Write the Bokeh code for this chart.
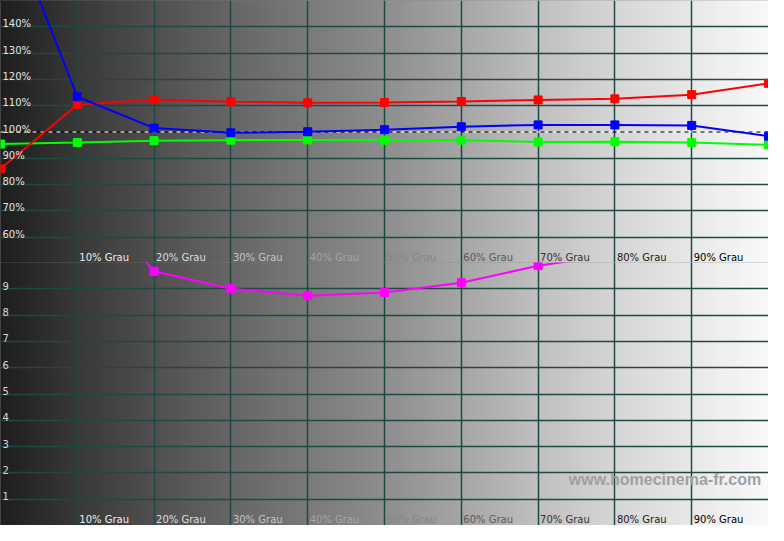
import numpy as np
from bokeh.plotting import figure
from bokeh.layouts import column
from bokeh.models import Grid, FixedTicker, Label, Span, ColumnDataSource
from bokeh.core.properties import value
from bokeh.embed import file_html
from bokeh.resources import INLINE

# ---------------- data ----------------
gray_levels = [0, 10, 20, 30, 40, 50, 60, 70, 80, 90, 100]
red_pct = [86.0, 110.4, 112.3, 111.5, 111.1, 111.2, 111.6, 112.2, 112.6, 114.2, 118.5]
green_pct = [95.4, 96.0, 96.7, 96.9, 97.0, 96.9, 96.9, 96.2, 96.3, 96.0, 95.1]
blue_pct = [188.0, 113.4, 101.5, 99.7, 100.1, 100.9, 102.0, 102.7, 102.7, 102.5, 98.4]

delta_levels = [10, 20, 30, 40, 50, 60, 70, 80]
delta_values = [13.0, 9.67, 9.0, 8.74, 8.86, 9.23, 9.88, 10.3]

pct_ticks = [60, 70, 80, 90, 100, 110, 120, 130, 140]
pct_labels = ["60%", "70%", "80%", "90%", "100%", "110%", "120%", "130%", "140%"]
delta_ticks = [1, 2, 3, 4, 5, 6, 7, 8, 9]
delta_labels = ["1", "2", "3", "4", "5", "6", "7", "8", "9"]
x_ticks = [10, 20, 30, 40, 50, 60, 70, 80, 90]
x_labels = ["10% Grau", "20% Grau", "30% Grau", "40% Grau", "50% Grau",
            "60% Grau", "70% Grau", "80% Grau", "90% Grau"]
x_label_colors = ["#eeeeee", "#dedede", "#c4c4c4", "#a4a4a4", "#868686",
                  "#5a5a5a", "#333333", "#1a1a1a", "#000000"]

# ---------------- style ----------------
W = 768
H_TOP = 263
H_BOT = 263
GRID_COLOR = "#1d4a45"
FONT = "DejaVu Sans"

# background grey ramp (style only)
ramp_pos = [0, 10, 20, 30, 40, 50, 60, 70, 80, 90, 100]
ramp_val = [30, 57, 80, 102, 122, 142, 166, 192, 214, 232, 250]
xs = np.linspace(0, 100, 512)
g = np.interp(xs, ramp_pos, ramp_val).astype(np.uint32)
rgba = (255 << 24) | (g << 16) | (g << 8) | g
bg_img = rgba.reshape(1, -1).astype(np.uint32)
css_stops = ", ".join(f"rgb({v},{v},{v}) {p}%" for p, v in zip(ramp_pos, ramp_val))


def base_fig(height, y0, y1):
    p = figure(width=W, height=height, x_range=(0, 100), y_range=(y0, y1),
               output_backend="svg", toolbar_location=None,
               x_axis_location=None, y_axis_location=None,
               min_border=0, outline_line_color=None,
               background_fill_color="#808080", border_fill_color="#808080")
    p.grid.visible = False
    pad = (y1 - y0) * 0.05
    p.image_rgba(image=[bg_img], x=0, y=y0 - pad, dw=100, dh=(y1 - y0) + 2 * pad,
                 level="image")
    return p


# ---------------- top panel ----------------
top = base_fig(H_TOP, 50, 150)
top.add_layout(Grid(dimension=0, ticker=FixedTicker(ticks=x_ticks),
                    grid_line_color=GRID_COLOR, grid_line_width=1.5))
top.add_layout(Grid(dimension=1, ticker=FixedTicker(ticks=[t for t in pct_ticks if t != 100]),
                    grid_line_color=GRID_COLOR, grid_line_width=1.5))
top.add_layout(Span(location=100, dimension="width", line_color="white",
                    line_dash="4 4", line_width=1, level="underlay"))
top.add_layout(Span(location=100, dimension="width", line_color="black",
                    line_dash="4 4", line_dash_offset=4, line_width=1, level="underlay"))

src = ColumnDataSource(dict(x=gray_levels, r=red_pct, g=green_pct, b=blue_pct))
for col, c in (("g", "#00ff00"), ("r", "#ff0000"), ("b", "#0000ff")):
    top.line("x", col, source=src, line_color=c, line_width=2)
    top.scatter("x", col, source=src, marker="square", size=8,
                fill_color=c, line_color=c)

top.text(x=[0] * len(pct_ticks), y=pct_ticks, text=pct_labels,
         text_font=value(FONT), text_font_size="10px", text_color="#e4e4e4",
         text_baseline="alphabetic", text_align="left", x_offset=2, y_offset=-3)
top.text(x=x_ticks, y=[50] * len(x_ticks), text=x_labels,
         text_font=value(FONT), text_font_size="10px", text_color=x_label_colors,
         text_baseline="bottom", text_align="left", x_offset=2, y_offset=-1)

# ---------------- bottom panel ----------------
bot = base_fig(H_BOT, 0, 10)
bot.margin = (-1, 0, 0, 0)
bot.add_layout(Grid(dimension=0, ticker=FixedTicker(ticks=x_ticks),
                    grid_line_color=GRID_COLOR, grid_line_width=1.5))
bot.add_layout(Grid(dimension=1, ticker=FixedTicker(ticks=delta_ticks),
                    grid_line_color=GRID_COLOR, grid_line_width=1.5))

dsrc = ColumnDataSource(dict(x=delta_levels, d=delta_values))
bot.line("x", "d", source=dsrc, line_color="#ff00ff", line_width=2)
bot.scatter("x", "d", source=dsrc, marker="square", size=8,
            fill_color="#ff00ff", line_color="#ff00ff")

bot.text(x=[0] * len(delta_ticks), y=delta_ticks, text=delta_labels,
         text_font=value(FONT), text_font_size="10px", text_color="#d8d8d8",
         text_baseline="alphabetic", text_align="left", x_offset=2, y_offset=-3)
bot.text(x=x_ticks, y=[0] * len(x_ticks), text=x_labels,
         text_font=value(FONT), text_font_size="10px", text_color=x_label_colors,
         text_baseline="bottom", text_align="left", x_offset=2, y_offset=-1)

bot.add_layout(Label(x=74, y=1.74, text="www.homecinema-fr.com",
                     text_font="Liberation Sans", text_font_size="16px",
                     text_font_style="bold", text_color="#a0a0a0",
                     text_baseline="middle", text_align="left"))

layout = column(top, bot, spacing=0,
                styles={"background": f"linear-gradient(to right, {css_stops})"})
open("out.html", "w").write(file_html(layout, INLINE))
